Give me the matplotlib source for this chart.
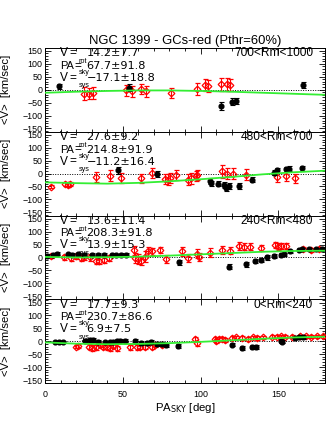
import matplotlib
matplotlib.use("Agg")
import matplotlib.pyplot as plt
from matplotlib.ticker import MultipleLocator

plt.rcParams['font.family'] = ['Liberation Sans', 'DejaVu Sans']

# ---------------- data ----------------
title = "NGC 1399 - GCs-red (Pthr=60%)"
ranges = ["700<Rm<1000", "480<Rm<700", "240<Rm<480", "0<Rm<240"]
vrot_txt = ["14.2±7.7", "27.6±9.2", "13.6±11.4", "17.7±9.3"]
pa_txt = ["67.7±91.8", "214.8±91.9", "208.3±91.8", "230.7±86.6"]
vsys_txt = ["−17.1±18.8", "−11.2±16.4", "13.9±15.3", "6.9±7.5"]

# panel 1 (700<Rm<1000)
black_pa1 = [9, 54, 113, 120, 123, 166]
black_v1 = [13, 8, -63, -46, -43, 18]
black_e1 = [10, 14, 15, 12, 12, 10]
red_pa1 = [25, 28, 31, 52, 56, 62, 65, 81, 98, 103, 105, 113, 117, 119]
red_v1 = [-15, -15, -13, -3, -6, 3, -7, -14, 2, 18, 14, 20, 20, 18]
red_e1 = [24, 22, 22, 22, 22, 20, 22, 20, 24, 22, 22, 24, 24, 22]

# panel 2 (480<Rm<700)
black_pa2 = [47, 72, 106, 106.5, 111, 115, 116.5, 118, 125, 133, 147, 149, 155, 157, 165]
black_v2 = [12, -1, -29, -37, -40, -45, -55, -49, -48, -24, 4, 12, 17, 18, 21]
black_e2 = [12, 12, 10, 10, 10, 12, 12, 12, 12, 10, 10, 10, 10, 10, 10]
red_pa2 = [4, 13, 14.5, 16, 33, 42, 49, 62, 69, 77, 79, 80.5, 84, 92, 94, 97, 98,
           113.5, 117, 121, 129, 149, 155, 161]
red_v2 = [-51, -40, -43, -39, -14, -8, -17, -19, 1, -20, -23, -16, -5, -23, -19, -10, -6,
          8, 0, 0, -4, -14, -10, -19]
red_e2 = [6, 8, 8, 8, 20, 20, 20, 18, 20, 20, 22, 20, 20, 22, 20, 20, 20,
          24, 22, 20, 20, 18, 18, 16]

# panel 3 (240<Rm<480)
black_pa3 = [1, 5, 8, 15, 17.5, 21, 25, 30, 34, 38, 43, 45.5, 49, 52, 86, 118.5, 129, 135,
             139, 143, 147, 151.7, 153.6, 157.7, 163, 165, 170, 174, 178]
black_v3 = [6, 10, 15, 13, 10, 13, 10, 10, 10, 10, 10, 9, 10, 10, -19, -35, -26, -15,
            -9, 0, 5, 10, 13, 23, 30, 32, 32, 32, 33]
black_e3 = [6, 6, 6, 6, 6, 6, 6, 6, 6, 6, 6, 6, 6, 6, 10, 10, 10, 8,
            8, 8, 8, 6, 6, 6, 6, 6, 6, 6, 6]
red_pa3 = [4, 12, 17, 20, 23, 25, 29, 33, 35, 38, 41, 57, 58, 60, 62, 64, 66, 69, 74, 78,
           88, 92, 97.5, 99, 106, 114, 119, 125, 128, 132, 139, 148, 150, 152, 155, 166, 171, 176]
red_v3 = [4, 0, -3, 5, -3, 0, 0, -13, -13, -10, -3, 28, -3, -6, -15, 3, 23, 23, 29, -6,
          23, -3, 15, 3, 19, 29, 26, 45, 41, 41, 38, 47, 41, 44, 44, 32, 28, 32]
red_e3 = [8, 10, 10, 10, 12, 10, 12, 14, 14, 12, 12, 18, 20, 20, 16, 20, 16, 14, 12, 16,
          18, 16, 18, 16, 18, 16, 14, 16, 14, 14, 12, 12, 14, 12, 12, 8, 8, 8]

# panel 4 (0<Rm<240)
black_pa4 = [6.4, 9, 11.8, 25.7, 29, 31, 34, 38.6, 41.8, 44, 46, 48.2, 51.4, 58, 62, 65.4,
             68, 71.8, 75, 78, 85.7, 120, 126.4, 133, 135.4, 151.7, 152.6, 160.7, 163.3, 166]
black_v4 = [-4, -4, -4, 3, 6, 5, -1, -4, -4, -1, 3, 3, 3, 0, -6, -6,
            -4, -10, -10, -13, -17, -13, -27, -21, -21, 0, -1, 13, 15, 15]
black_e4 = [4, 4, 4, 6, 8, 8, 6, 6, 6, 6, 6, 6, 6, 10, 8, 8,
            8, 8, 8, 8, 8, 6, 8, 8, 8, 6, 6, 5, 5, 5]
red_pa4 = [19.7, 21.4, 28, 30, 33, 35.4, 37.5, 39.6, 41.8, 44, 46, 54.6, 59, 61, 64.3, 68.6,
           70.7, 75, 96.4, 98, 109, 110, 112, 114, 116, 120, 122.6, 126.4, 130.7, 134, 136,
           140, 146, 149, 152, 154, 158.6, 164, 167.6, 171, 175, 179]
red_v4 = [-20, -18, -20, -26, -23, -13, -20, -23, -26, -19, -27, -23, -23, -20, -20, -20,
          -13, -13, 9, -8, 9, 3, 9, 9, 6, 13, 15, 13, 9, 15, 13,
          15, 18, 18, 20, 18, 18, 20, 20, 18, 20, 20]
red_e4 = [6, 6, 8, 10, 10, 8, 8, 10, 10, 8, 10, 10, 10, 10, 8, 8,
          8, 8, 6, 10, 8, 8, 8, 8, 8, 6, 6, 6, 6, 6, 6,
          6, 6, 6, 6, 6, 6, 6, 6, 6, 6, 6]

# green model curves
model_pa = [0, 20, 40, 60, 80, 100, 120, 140, 160, 180]
model_v1 = [-12, -8, -5, -3, -3, -5, -8, -12, -16, -20]
model_v2 = [-34, -37, -39, -36, -30, -22, -13, -3, 5, 11]
model_v3 = [2, 0, 1, 3, 7, 12, 17, 22, 25, 26]
model_v4 = [-4, -9, -11, -10, -7, -2, 4, 10, 15, 18]

panels = [
    (black_pa1, black_v1, black_e1, red_pa1, red_v1, red_e1, model_v1),
    (black_pa2, black_v2, black_e2, red_pa2, red_v2, red_e2, model_v2),
    (black_pa3, black_v3, black_e3, red_pa3, red_v3, red_e3, model_v3),
    (black_pa4, black_v4, black_e4, red_pa4, red_v4, red_e4, model_v4),
]

# ---------------- figure ----------------
W, H = 327, 437
fig = plt.figure(figsize=(W / 100, H / 100), dpi=100)
left, right = 45 / W, 325 / W
top_px, bot_px = 47.7, 383.3
ph = (bot_px - top_px) / 4
aw = 325 - 45

def fx(px):
    return (px - 45) / aw

for i, (bpa, bv, be, rpa, rv, re, mv) in enumerate(panels):
    y0 = 1 - (top_px + (i + 1) * ph) / H
    ax = fig.add_axes([left, y0, right - left, ph / H])
    ax.set_xlim(0, 180)
    ax.set_ylim(-162, 162)
    ax.axhline(0, color='black', ls=(0, (1, 1.5)), lw=0.7, zorder=1)
    ax.errorbar(rpa, rv, yerr=re, fmt='D', ms=3.4, mfc='none', mec='red', mew=0.9,
                ecolor='red', elinewidth=0.8, capsize=1.8, capthick=0.8, zorder=3)
    ax.errorbar(bpa, bv, yerr=be, fmt='o', ms=3.4, mfc='black', mec='black',
                ecolor='black', elinewidth=0.8, capsize=1.8, capthick=0.8, zorder=4)
    ax.plot(model_pa, mv, color='#33ee33', lw=1.3, zorder=5)

    ax.xaxis.set_major_locator(MultipleLocator(50))
    ax.xaxis.set_minor_locator(MultipleLocator(10))
    ax.yaxis.set_major_locator(MultipleLocator(50))
    ax.yaxis.set_minor_locator(MultipleLocator(10))
    ax.tick_params(which='both', direction='in', top=True, right=True,
                   labelsize=6.4, width=0.6, colors='black')
    ax.tick_params(which='major', length=4)
    ax.tick_params(which='minor', length=2)
    ax.tick_params(axis='y', pad=2)
    ax.tick_params(axis='x', pad=5)
    for s in ax.spines.values():
        s.set_linewidth(0.7)
    ax.set_yticks([-150, -100, -50, 0, 50, 100, 150])
    ax.set_ylabel("<V>  [km/sec]", fontsize=8.2, labelpad=1)
    ax.yaxis.set_label_coords(-0.122, 0.5)
    if i < 3:
        ax.tick_params(axis='x', labelbottom=False)
    else:
        ax.set_xlabel(r"PA$_{\rm SKY}$ [deg]", fontsize=8.2, labelpad=1)
    if i == 0:
        ax.set_title(title, fontsize=9.4, pad=3)

    fs = 8.6
    ys = [0.937, 0.786, 0.643]
    ysub = [0.835, 0.708, 0.55]
    labs = ["V", "PA", "V"]
    labfs = [fs, 7.9, fs]
    eqx = [69, 74, 69]
    subs = ["rot", "sky", "sys"]
    vals = [vrot_txt[i], pa_txt[i], vsys_txt[i]]
    for k in range(3):
        ax.text(fx(60), ys[k], labs[k], transform=ax.transAxes, fontsize=labfs[k],
                va='center', ha='left', zorder=6)
        ax.text(fx(eqx[k]), ys[k], "=", transform=ax.transAxes, fontsize=fs,
                va='center', ha='left', zorder=6)
        ax.text(fx(86.5), ys[k], vals[k], transform=ax.transAxes, fontsize=8.1,
                family=['DejaVu Sans'], va='center', ha='left', zorder=6)
        ax.text(fx(78.5), ysub[k], subs[k], transform=ax.transAxes, fontsize=5.2,
                va='center', ha='left', zorder=6)
    ax.text(fx(313), ys[0], ranges[i], transform=ax.transAxes, fontsize=fs,
            va='center', ha='right', zorder=6)

fig.savefig("out.png", dpi=100)
